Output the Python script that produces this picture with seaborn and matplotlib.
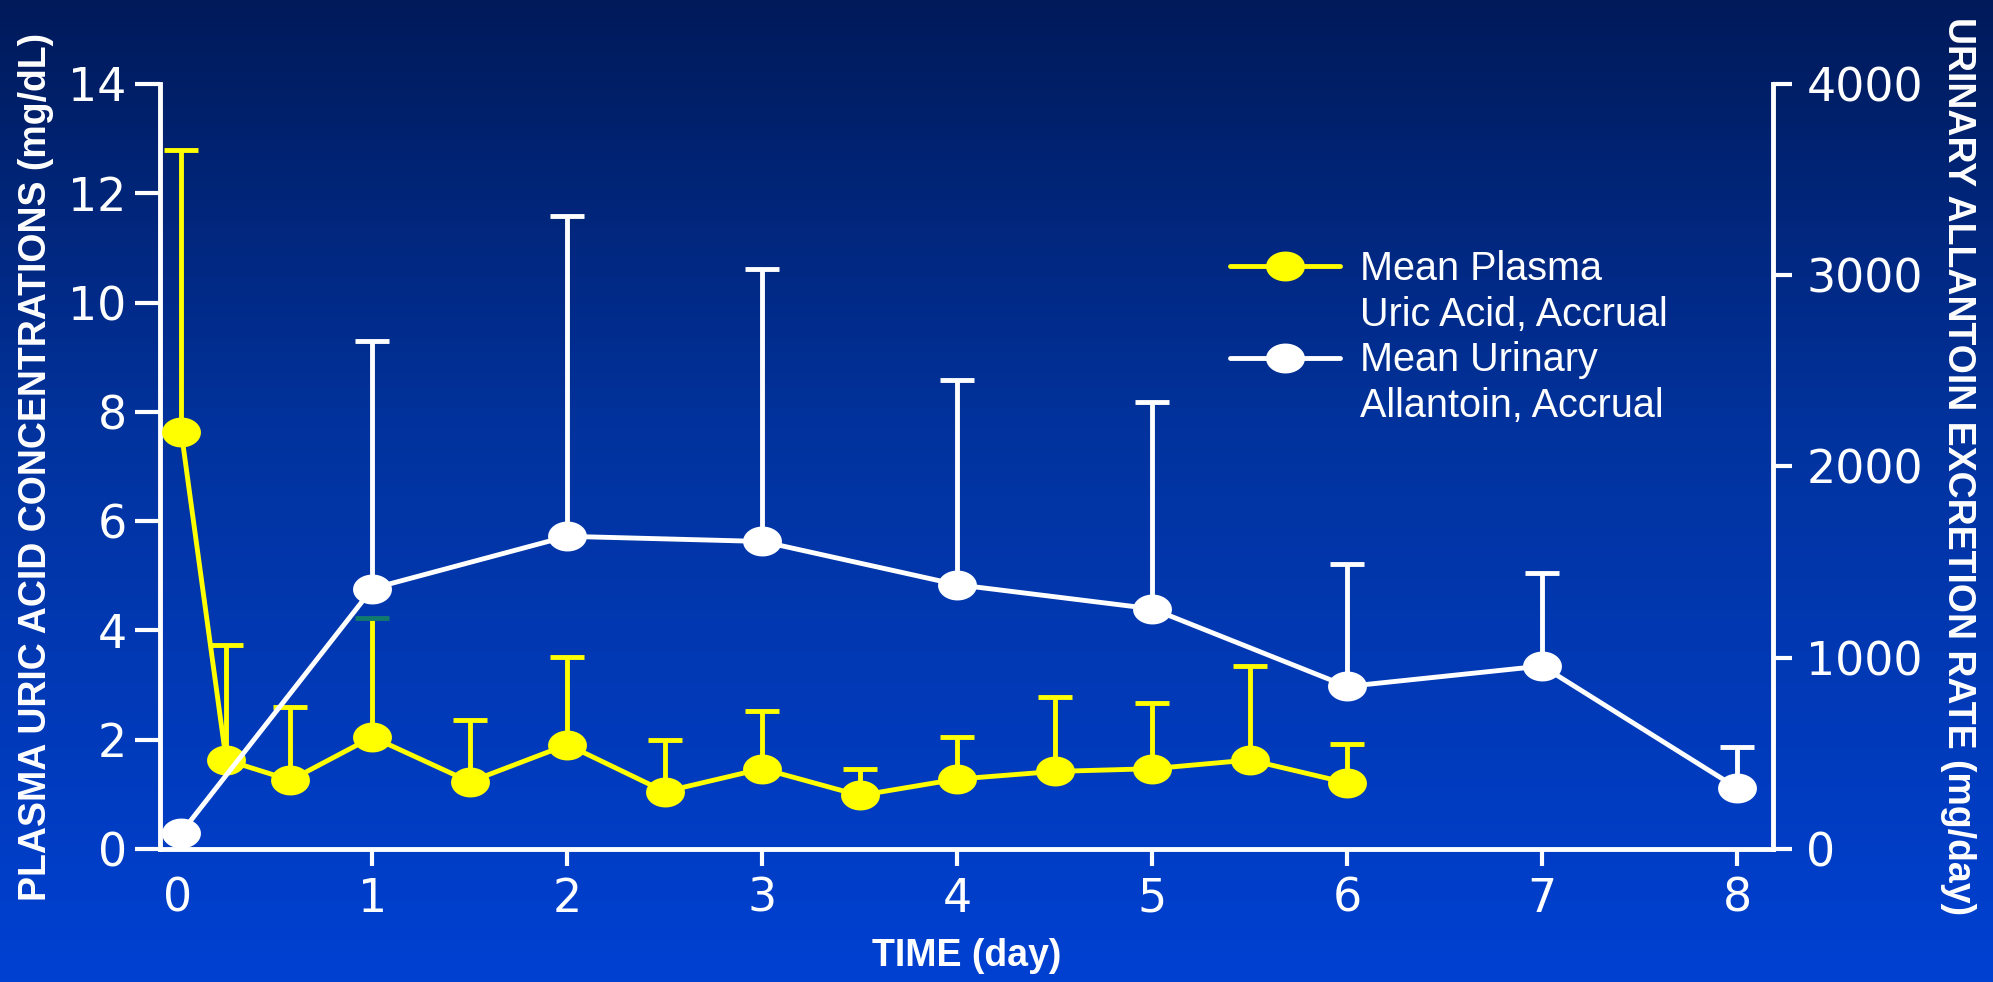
import numpy as np
import matplotlib
matplotlib.use("Agg")
import matplotlib.pyplot as plt
from matplotlib.colors import LinearSegmentedColormap
from matplotlib.lines import Line2D
from matplotlib.path import Path
import seaborn as sns

# plasma uric acid (left axis, mg/dL)
uric_day = [0.02, 0.25, 0.58, 1, 1.5, 2, 2.5, 3, 3.5, 4, 4.5, 5, 5.5, 6]
uric_mean = [7.63, 1.63, 1.26, 2.05, 1.23, 1.91, 1.05, 1.47, 0.98, 1.28, 1.42, 1.47, 1.63, 1.21]
uric_top = [12.79, 3.74, 2.60, 4.23, 2.37, 3.51, 2.00, 2.53, 1.47, 2.05, 2.79, 2.67, 3.35, 1.93]

# urinary allantoin (right axis, mg/day)
allan_day = [0.02, 1, 2, 3, 4, 5, 6, 7, 8]
allan_mean = [86, 1362, 1635, 1608, 1382, 1256, 850, 957, 319]
allan_top = [86, 2658, 3309, 3030, 2452, 2339, 1488, 1442, 532]

x_ticks = list(range(0, 9))
left_ticks = [0, 2, 4, 6, 8, 10, 12, 14]
right_ticks = [0, 1000, 2000, 3000, 4000]

sns.set_theme(style="ticks")
plt.rcParams["font.family"] = ["Liberation Sans", "DejaVu Sans"]

fig = plt.figure(figsize=(19.93, 9.82), dpi=100)

# blue gradient background
bg = fig.add_axes([0, 0, 1, 1], zorder=-10)
cmap = LinearSegmentedColormap.from_list(
    "bg", [(0, "#001a5a"), (0.45, "#02339f"), (1, "#0041d2")])
bg.imshow(np.linspace(0, 1, 256).reshape(-1, 1), cmap=cmap, aspect="auto",
          extent=[0, 1, 0, 1], origin="upper")
bg.axis("off")

ax = fig.add_axes([0.0803, 0.1354, 0.8093, 0.7791])
ax.set_facecolor("none")
ax2 = ax.twinx()
ax2.set_facecolor("none")

# ellipse-shaped marker, wider than tall
t = np.linspace(0, 2 * np.pi, 60)
ellipse = Path(np.column_stack([1.3 * np.cos(t), np.sin(t)]), closed=True)

yellow = "#ffff00"
lw = 3.5
msize = 28


def upper_errorbars(a, x, y, top, color, cap_color=None):
    err = np.array(top) - np.array(y)
    eb = a.errorbar(x, y, yerr=[np.zeros(len(err)), err], fmt="none", ecolor=color,
                    elinewidth=lw, capsize=12, capthick=lw, zorder=2)
    # keep only the upper caps
    for cap in eb[1]:
        if np.allclose(cap.get_ydata(), y):
            cap.set_visible(False)
        elif cap_color:
            cap.set_markeredgecolor(cap_color)
            cap.set_markerfacecolor(cap_color)
    return eb


# one cap in the original (day 1) is drawn in teal
i1 = uric_day.index(1)
rest = [i for i in range(len(uric_day)) if i != i1]
upper_errorbars(ax, [uric_day[i] for i in rest], [uric_mean[i] for i in rest],
                [uric_top[i] for i in rest], yellow)
upper_errorbars(ax, [uric_day[i1]], [uric_mean[i1]], [uric_top[i1]], yellow, "#127a6c")
sns.lineplot(x=uric_day, y=uric_mean, ax=ax, color=yellow, linewidth=lw,
             marker=ellipse, markersize=msize, markeredgewidth=0, zorder=3)

upper_errorbars(ax2, allan_day[1:], allan_mean[1:], allan_top[1:], "white")
sns.lineplot(x=allan_day, y=allan_mean, ax=ax2, color="white", linewidth=lw,
             marker=ellipse, markersize=msize, markeredgewidth=0, zorder=3)

ax.set_xlim(-0.089, 8.184)
ax.set_ylim(0, 14)
ax2.set_ylim(0, 4000)

ax.set_xticks(x_ticks)
ax.set_xticklabels([str(v) for v in x_ticks])
ax.set_yticks(left_ticks)
ax2.set_yticks(right_ticks)
ax.xaxis.get_major_ticks()[0].tick1line.set_visible(False)

for a in (ax, ax2):
    for s in a.spines.values():
        s.set_color("white")
        s.set_linewidth(3.5)
    a.spines["top"].set_visible(False)
ax.spines["right"].set_visible(False)
ax2.spines["left"].set_visible(False)
ax2.spines["bottom"].set_visible(False)

tick_font = ["DejaVu Sans"]
ax.tick_params(axis="y", colors="white", labelsize=33, length=18, width=3, pad=6)
ax.tick_params(axis="x", colors="white", labelsize=33, length=12, width=3, pad=8)
ax2.tick_params(axis="y", colors="white", labelsize=33, length=14, width=3, pad=10)
for lab in ax.get_xticklabels() + ax.get_yticklabels() + ax2.get_yticklabels():
    lab.set_family(tick_font)

label_font = ["Liberation Sans Narrow", "Liberation Sans", "DejaVu Sans"]
ax.set_ylabel("PLASMA URIC ACID CONCENTRATIONS (mg/dL)", color="white",
              fontsize=27, fontweight="bold", family=label_font, labelpad=10)
ax2.set_ylabel("URINARY ALLANTOIN EXCRETION RATE (mg/day)", color="white",
               fontsize=27, fontweight="bold", family=label_font,
               rotation=-90, labelpad=38)
ax.set_xlabel("TIME (day)", color="white", fontsize=27, fontweight="bold", labelpad=12)

blank = Line2D([], [], linestyle="none")
handles = [
    Line2D([], [], color=yellow, linewidth=lw, marker=ellipse, markersize=msize, markeredgewidth=0),
    blank,
    Line2D([], [], color="white", linewidth=lw, marker=ellipse, markersize=msize, markeredgewidth=0),
    blank,
]
labels = ["Mean Plasma", "Uric Acid, Accrual", "Mean Urinary", "Allantoin, Accrual"]
ax2.legend(handles, labels, loc="upper left", bbox_to_anchor=(0.641, 0.83),
           frameon=False, fontsize=28.5, handlelength=2.8, handletextpad=0.5,
           labelspacing=0.2, labelcolor="white")

fig.savefig("out.png", dpi=100)
